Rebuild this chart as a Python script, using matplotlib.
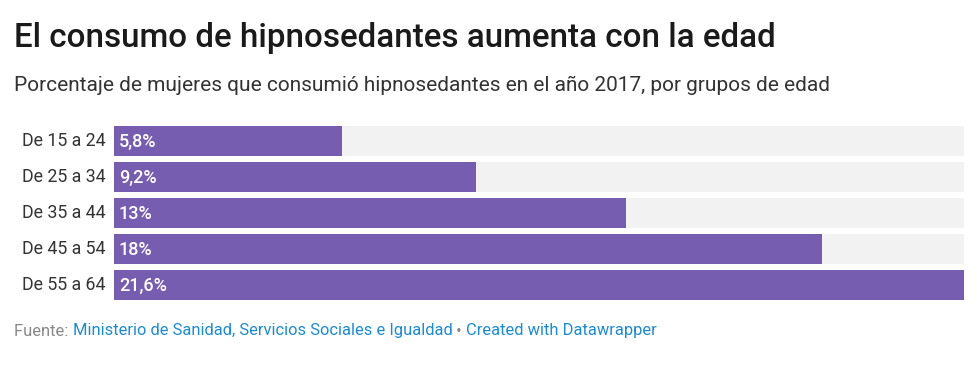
import matplotlib
matplotlib.use("Agg")
import matplotlib.pyplot as plt

plt.rcParams['font.family'] = ['Roboto', 'DejaVu Sans']

grupos = ['De 15 a 24', 'De 25 a 34', 'De 35 a 44', 'De 45 a 54', 'De 55 a 64']
valores = [5.8, 9.2, 13, 18, 21.6]
etiquetas = ['5,8%', '9,2%', '13%', '18%', '21,6%']
maximo = 21.6

MORADO = '#775db0'
FONDO = '#f2f2f2'

W, H = 980, 368
fig = plt.figure(figsize=(W / 100, H / 100), dpi=100)

# ejes: barras de x=114 a x=964, y=126 a y=300 (px)
ax = fig.add_axes([114 / W, (H - 300) / H, 850 / W, 174 / H])
alto = 30 / 36
pos = list(range(len(grupos)))
ax.barh(pos, [maximo] * len(grupos), height=alto, color=FONDO, linewidth=0)
ax.barh(pos, valores, height=alto, color=MORADO, linewidth=0)
ax.set_xlim(0, maximo)
ax.set_ylim(len(grupos) - 1 + alto / 2, -alto / 2)
ax.axis('off')

for i, (g, e) in enumerate(zip(grupos, etiquetas)):
    ax.annotate(g, (0, i), xytext=(-8, 0), textcoords='offset pixels',
                ha='right', va='center', fontsize=12.8, color='#333333')
    ax.annotate(e, (0, i), xytext=(5, -1), textcoords='offset pixels',
                ha='left', va='center', fontsize=13, color='white', fontweight='medium')

fig.text(14 / W, 1 - 38 / H, 'El consumo de hipnosedantes aumenta con la edad',
         fontsize=23.9, fontweight='medium', color='#1a1a1a', va='center', ha='left')
fig.text(14 / W, 1 - 85 / H, 'Porcentaje de mujeres que consumió hipnosedantes en el año 2017, por grupos de edad',
         fontsize=15, color='#333333', va='center', ha='left')

# pie de página
partes = [('Fuente: ', '#888888'),
          ('Ministerio de Sanidad, Servicios Sociales e Igualdad', '#1d8bd0'),
          (' • ', '#888888'),
          ('Created with Datawrapper', '#1d8bd0')]
renderer = fig.canvas.get_renderer()
x = 14
for texto, color in partes:
    t = fig.text(x / W, 1 - 331 / H, texto, fontsize=11.9, color=color, va='center', ha='left')
    x += t.get_window_extent(renderer).width

fig.savefig('out.png', dpi=100)
